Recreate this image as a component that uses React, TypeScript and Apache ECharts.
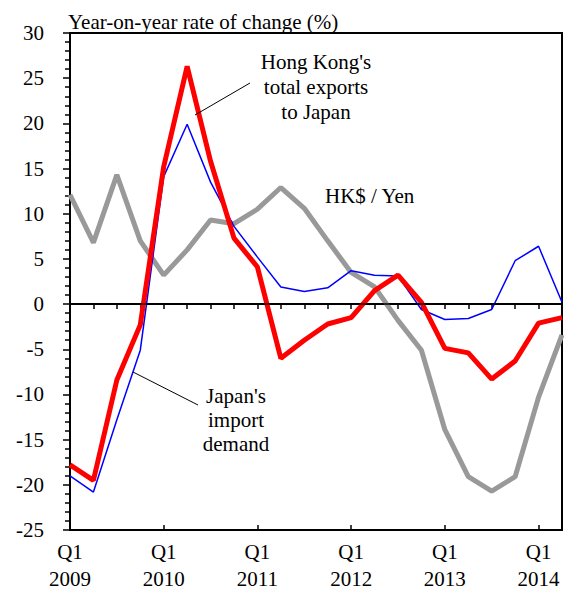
import React, { useEffect, useRef } from "react";
import * as echarts from "echarts";

const quarters = [
  "2009Q1","2009Q2","2009Q3","2009Q4",
  "2010Q1","2010Q2","2010Q3","2010Q4",
  "2011Q1","2011Q2","2011Q3","2011Q4",
  "2012Q1","2012Q2","2012Q3","2012Q4",
  "2013Q1","2013Q2","2013Q3","2013Q4",
  "2014Q1","2014Q2",
];

const hkExportsToJapan = [
  -17.8, -19.5, -8.4, -2.3, 15.2, 26.3, 15.8, 7.3, 4.1, -6.0, -4.0,
  -2.2, -1.5, 1.5, 3.2, 0.2, -4.9, -5.4, -8.3, -6.3, -2.1, -1.5,
];

const japanImportDemand = [
  -19.0, -20.8, -12.8, -5.1, 14.1, 19.9, 13.5, 8.6, 5.2, 1.9, 1.4,
  1.8, 3.7, 3.2, 3.1, -0.6, -1.7, -1.6, -0.6, 4.8, 6.4, 0.2,
];

const hkdYen = [
  12.1, 6.8, 14.3, 7.0, 3.2, 6.0, 9.3, 8.9, 10.5, 12.9, 10.6,
  7.0, 3.5, 1.9, -1.8, -5.1, -13.9, -19.1, -20.7, -19.1, -10.3, -3.4,
];

const yMin = -25;
const yMax = 30;
const yStep = 5;

const FONT = "Liberation Serif";
const FS = 21;

export default function App() {
  const ref = useRef<HTMLDivElement>(null);
  useEffect(() => {
    document.body.style.margin = "0";
    if (!ref.current) return;
    const chart = echarts.init(ref.current, undefined, { renderer: "svg" });
    const labelFmt = (v: string) => `Q${v.slice(5)}\n${v.slice(0, 4)}`;
    chart.setOption({
      animation: false,
      backgroundColor: "#ffffff",
      textStyle: { fontFamily: FONT },
      title: {
        text: "Year-on-year rate of change (%)",
        left: 63,
        top: 6,
        textStyle: { fontFamily: FONT, fontSize: FS, fontWeight: "normal", color: "#000" },
      },
      grid: {
        left: 70,
        right: 5,
        top: 33,
        bottom: 64,
        show: true,
        borderColor: "#000",
        borderWidth: 2,
        backgroundColor: "transparent",
      },
      xAxis: [
        {
          type: "category",
          data: quarters,
          boundaryGap: false,
          axisLine: { lineStyle: { color: "#000", width: 2 } },
          axisTick: { show: true, interval: 0, length: 5, lineStyle: { color: "#000", width: 1.5 } },
          axisLabel: {
            interval: 3,
            formatter: labelFmt,
            fontFamily: FONT,
            fontSize: FS,
            color: "#000",
            lineHeight: 27,
            margin: 8,
          },
          splitLine: { show: false },
        },
        {
          type: "category",
          data: quarters,
          boundaryGap: false,
          position: "bottom",
          axisLine: { show: false },
          axisTick: { show: true, inside: true, interval: 3, length: 5, lineStyle: { color: "#000", width: 1.5 } },
          axisLabel: { show: false },
          splitLine: { show: false },
        },
      ],
      yAxis: {
        type: "value",
        min: yMin,
        max: yMax,
        interval: yStep,
        axisLine: { show: true, lineStyle: { color: "#000", width: 2 } },
        axisTick: { show: true, length: 7, lineStyle: { color: "#000", width: 1.5 } },
        minorTick: { show: true, splitNumber: 5, length: 5, lineStyle: { color: "#000", width: 1.5 } },
        axisLabel: { fontFamily: FONT, fontSize: FS, color: "#000", margin: 26 },
        splitLine: { show: false },
      },
      series: [
        {
          name: "HK$ / Yen",
          type: "line",
          data: hkdYen,
          symbol: "none",
          lineStyle: { color: "#999999", width: 5 },
          z: 2,
          markLine: {
            silent: true,
            symbol: "none",
            label: { show: false },
            lineStyle: { color: "#000", width: 1.5, type: "solid" },
            data: [{ yAxis: 0 }],
          },
        },
        {
          name: "Japan's import demand",
          type: "line",
          data: japanImportDemand,
          symbol: "none",
          lineStyle: { color: "#0000ff", width: 1.5 },
          z: 3,
        },
        {
          name: "Hong Kong's total exports to Japan",
          type: "line",
          data: hkExportsToJapan,
          symbol: "none",
          lineStyle: { color: "#ff0000", width: 5 },
          z: 4,
        },
      ],
      graphic: [
        {
          type: "text",
          x: 316,
          y: 49,
          style: {
            text: "Hong Kong's\ntotal exports\nto Japan",
            fontFamily: FONT,
            fontSize: FS,
            lineHeight: 25,
            fill: "#000",
            align: "center",
          },
          z: 10,
        },
        {
          type: "line",
          shape: { x1: 250, y1: 83, x2: 195, y2: 115 },
          style: { stroke: "#000", lineWidth: 1 },
          z: 10,
        },
        {
          type: "text",
          x: 325,
          y: 185,
          style: { text: "HK$ / Yen", fontFamily: FONT, fontSize: FS, fill: "#000" },
          z: 10,
        },
        {
          type: "text",
          x: 236,
          y: 384,
          style: {
            text: "Japan's\nimport\ndemand",
            fontFamily: FONT,
            fontSize: FS,
            lineHeight: 24,
            fill: "#000",
            align: "center",
          },
          z: 10,
        },
        {
          type: "line",
          shape: { x1: 198, y1: 405, x2: 133, y2: 372 },
          style: { stroke: "#000", lineWidth: 1 },
          z: 10,
        },
      ],
    });
    return () => chart.dispose();
  }, []);
  return <div ref={ref} style={{ width: 567, height: 594 }} />;
}
